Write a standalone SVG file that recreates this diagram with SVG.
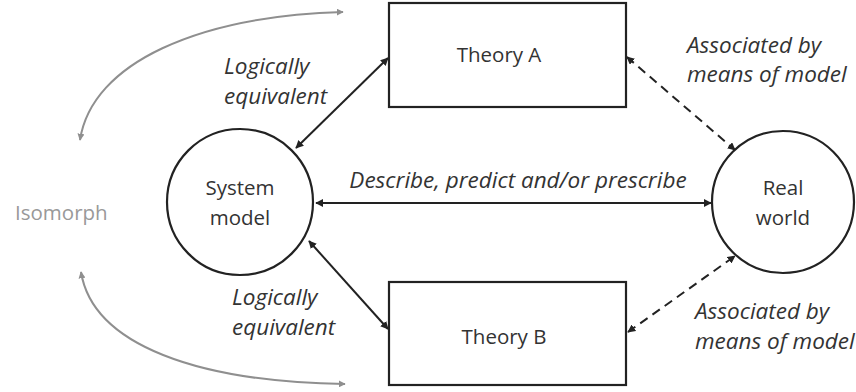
<svg xmlns="http://www.w3.org/2000/svg" width="856" height="392" viewBox="0 0 856 392">
<style>
text{font-family:"Open Sans","Liberation Sans",sans-serif;fill:#333}
.lbl{font-style:italic;font-size:22.5px}
.node{font-size:20.5px}
.box{fill:#fff;stroke:#222;stroke-width:2.2}
.ln{stroke:#222;stroke-width:2;fill:none;marker-start:url(#ah);marker-end:url(#ah)}
.dash{stroke-dasharray:9 6}
.iso{stroke:#8f8f8f;stroke-width:2;fill:none;marker-start:url(#ahg);marker-end:url(#ahg)}
</style>
<defs>
<marker id="ah" viewBox="0 0 10 10" refX="9" refY="5" markerWidth="4" markerHeight="4" orient="auto-start-reverse"><path d="M0,0L10,5L0,10z" fill="#222"/></marker>
<marker id="ahg" viewBox="0 0 10 10" refX="9" refY="5" markerWidth="3.5" markerHeight="3.5" orient="auto-start-reverse"><path d="M0,0L10,5L0,10z" fill="#8f8f8f"/></marker>
</defs>
<rect width="856" height="392" fill="#fff"/>
<g id="connectors">
<path class="iso" d="M80,140 C92,62 200,16 343,12"/>
<path class="iso" d="M81,272 C93,346 200,382 345,384"/>
<line class="ln" x1="316" y1="203" x2="711" y2="203"/>
<line class="ln" x1="388" y1="58" x2="296" y2="148"/>
<line class="ln" x1="309" y1="241" x2="388" y2="329"/>
<line class="ln dash" x1="627" y1="57" x2="735" y2="150"/>
<line class="ln dash" x1="628" y1="332" x2="735" y2="256"/>
</g>
<g id="theoryA"><rect class="box" x="389" y="3" width="237" height="104"/><text class="node" x="499" y="62" text-anchor="middle">Theory A</text></g>
<g id="theoryB"><rect class="box" x="389" y="282" width="237" height="103"/><text class="node" x="504" y="344" text-anchor="middle">Theory B</text></g>
<g id="systemModel"><circle class="box" cx="240" cy="202" r="73"/><text class="node" x="240" y="195" text-anchor="middle">System</text><text class="node" x="240" y="225" text-anchor="middle">model</text></g>
<g id="realWorld"><circle class="box" cx="783" cy="202" r="71"/><text class="node" x="783" y="195" text-anchor="middle">Real</text><text class="node" x="783" y="225" text-anchor="middle">world</text></g>
<g id="labels">
<text class="lbl" x="224" y="74">Logically</text>
<text class="lbl" x="224" y="104">equivalent</text>
<text class="lbl" x="232" y="305">Logically</text>
<text class="lbl" x="232" y="335">equivalent</text>
<text class="lbl" x="518" y="188" text-anchor="middle">Describe, predict and/or prescribe</text>
<text class="lbl" x="687" y="53">Associated by</text>
<text class="lbl" x="687" y="82">means of model</text>
<text class="lbl" x="695" y="319">Associated by</text>
<text class="lbl" x="695" y="349">means of model</text>
<text x="15" y="220" style="font-size:20.5px;fill:#999">Isomorph</text>
</g>
</svg>
